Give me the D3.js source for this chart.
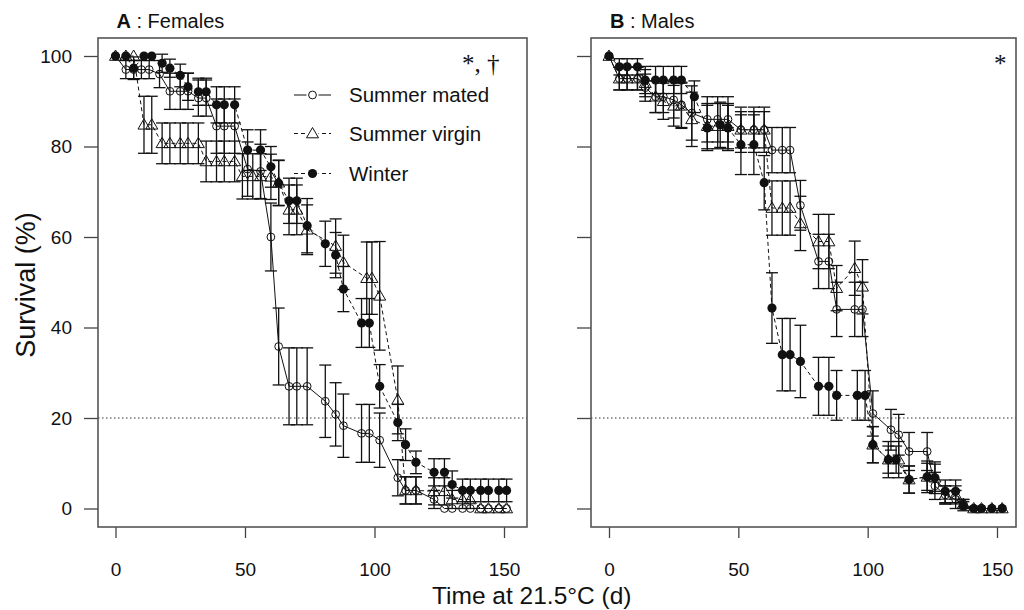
<!DOCTYPE html>
<html>
<head>
<meta charset="utf-8">
<script src="https://cdn.jsdelivr.net/npm/d3@7"></script>
<style>
  body { margin: 0; background: #fff; }
  text { font-family: Arial, "Liberation Sans", sans-serif; fill: #111; }
</style>
</head>
<body>
<svg id="chart" width="1024" height="610"></svg>
<script>
// ---- data: day, survival (%), SE ----
const xTicks = [0, 50, 100, 150];
const yTicks = [0, 20, 40, 60, 80, 100];

// A : Females
const femMatedDay  = [0,4,7,10,13,17,21,25,28,32,35,39,42,46,51,56,60,63,67,70,74,81,85,88,95,98,102,109,112,116,123,127,130,134,137,141,144,148,151];
const femMatedSurv = [100,97,97,97,97,96,92.2,92.2,92.2,90.7,90.7,84.5,84.5,84.5,75,74.5,60,35.8,27,27,27,23.7,20.8,18.3,16.6,16.6,15.1,6.8,4,4,2,0,0,0,0,0,0,0,0];
const femMatedSE   = [0,2,2,2,2,3,4,4,4,4,4,6,6,6,6,6,7.5,8.5,8.5,8.5,8.5,8,7,7,6.4,6.4,6,4,3,3,2,0,0,0,0,0,0,0,0];

const femVirginDay  = [0,4,7,11,14,18,21,25,28,32,35,39,42,46,49,53,56,60,63,67,70,74,85,88,97,99,102,109,112,116,123,127,130,134,137,141,144,148,151];
const femVirginSurv = [100,100,100,84.8,84.8,80.7,80.7,80.7,80.7,80.7,76.7,76.7,76.7,76.7,73.4,73.4,73.4,73.3,72,66,66,61.6,58,54.4,50.9,50.9,47,24,4,4,3.8,3.8,2,2,2,0,0,0,0];
const femVirginSE   = [0,0,0,6.3,6.3,4.5,4.5,4.5,4.5,4.5,4.5,4.5,4.5,4.5,5,5,5,5,5,5.5,5.5,5.5,6,6,8,8,12,7.5,3,3,3,3,2,2,2,0,0,0,0];

const femWinterDay  = [0,4,7,11,14,18,21,25,28,32,35,39,42,46,51,56,60,63,67,70,74,81,85,88,95,98,102,109,112,116,123,127,130,134,137,141,144,148,151];
const femWinterSurv = [100,100,97.3,100,100,98.4,97.3,95.7,93.2,92.1,92.1,89.2,89.2,89.2,79.2,79.2,75.5,71.9,68,68,62.5,58.5,56,48.5,41,41,27,19,14.1,10.2,8,8,5.3,4,4,4,4,4,4];
const femWinterSE   = [0,0,2.5,0,0,2,2,2.5,3,3,3,4,4,4,4.5,4.5,4.5,5,5,5,6,5,5,5,5.4,5.4,4.8,4,3.5,2.5,3,3,3,2.5,2.5,2.5,2.5,2.5,2.5];

// B : Males
const malMatedDay  = [0,4,7,11,14,18,21,25,28,32,38,42,46,51,56,60,63,67,70,74,81,85,88,95,98,102,109,112,116,123,126,130,134,137,141,144,148,152];
const malMatedSurv = [100,95,95,95,93,91,91,90.3,89.2,87.4,86,86,86,83.7,83.7,83.7,79.2,79.2,79.2,67,54.6,54.6,44,44,44,21,17.4,16.3,12.6,12.6,5,3,2,1,0,0,0,0];
const malMatedSE   = [0,2.5,2.5,2.5,3,3.5,3.5,4,5,6,5,5,5,5,5,5,5,5,5,5.5,6,6,6,6,6,5,4.5,4.5,4.2,4.2,3,2,2,1,0,0,0,0];

const malVirginDay  = [0,4,7,11,14,18,21,25,28,32,38,42,46,51,56,60,63,67,70,74,81,85,88,95,98,102,108,112,116,123,126,130,134,137,141,144,148,152];
const malVirginSurv = [100,95,95,95,94,91,90,89,89,86,84.5,84.5,84.5,83.7,83.7,83.7,66.4,66.4,66.4,63,59,59,48.7,53.1,49,14.1,10.8,10.8,6.4,7,6.8,3,3,1,0,0,0,0];
const malVirginSE   = [0,2.5,2.5,2.5,3,3.5,4,4.5,5,6,5,5,5,4,4,4,6,6,6,6,6,6,5,6,6,4,4,4,3,3.5,3.5,2,2,1,0,0,0,0];

const malWinterDay  = [0,4,7,11,14,18,21,25,28,33,38,43,46,51,56,60,63,67,70,74,81,85,88,96,99,102,108,111,116,123,126,130,134,137,141,144,148,152];
const malWinterSurv = [100,97.6,97.6,97.6,94.7,94.7,94.7,94.7,94.7,91,84.1,84.8,84.1,80.4,80.4,72,44.3,34,34,32.5,27,27,25,25,25,14.1,10.8,10.8,6.4,7,6.8,3.8,3.8,0.5,0,0,0,0];
const malWinterSE   = [0,1.8,1.8,1.8,3,3,3,3,3,3.5,5,5,5,6.6,6.6,6,7.8,8,8,8,6.4,6.4,5.5,5.5,5.5,4,3,3,3,3,3,2.5,2.5,1,0,0,0,0];

const seriesNames = ["Summer mated", "Summer virgin", "Winter"];

function rows(day, surv, se) {
  return day.map((d, i) => ({ day: d, surv: surv[i], se: se[i] }));
}

const panels = [
  { letter: "A", title: " : Females", box: [98, 527], xRange: [115.5, 504], yLabels: true,
    note: "*, \u2020", noteX: 462, legend: true,
    series: [rows(femMatedDay, femMatedSurv, femMatedSE),
             rows(femVirginDay, femVirginSurv, femVirginSE),
             rows(femWinterDay, femWinterSurv, femWinterSE)] },
  { letter: "B", title: " : Males", box: [591, 1016], xRange: [609, 997], yLabels: false,
    note: "*", noteX: 994, legend: false,
    series: [rows(malMatedDay, malMatedSurv, malMatedSE),
             rows(malVirginDay, malVirginSurv, malVirginSE),
             rows(malWinterDay, malWinterSurv, malWinterSE)] }
];

const boxTop = 38, boxBottom = 527;
const ink = "#111";
const dash = ["none", "4,3", "4,3"];
const capHalf = 6;

const svg = d3.select("#chart");

// marker drawers: open circle, open triangle, filled dot
function marker(sel, kind) {
  if (kind === 0) {
    sel.append("circle").attr("r", 3.9).attr("fill", "none").attr("stroke", ink).attr("stroke-width", 1);
  } else if (kind === 1) {
    sel.append("path").attr("d", "M0,-6L6,4.3L-6,4.3Z").attr("fill", "none").attr("stroke", ink).attr("stroke-width", 1);
  } else {
    sel.append("circle").attr("r", 4.6).attr("fill", ink);
  }
}

function drawPanel(p) {
  const x = d3.scaleLinear().domain([0, 150]).range(p.xRange);
  const y = d3.scaleLinear().domain([0, 100]).range([508.5, 56]);
  const g = svg.append("g");

  // 20 % reference line
  g.append("line")
    .attr("x1", p.box[0]).attr("x2", p.box[1])
    .attr("y1", y(20)).attr("y2", y(20))
    .attr("stroke", "#333").attr("stroke-width", 1.2)
    .attr("stroke-dasharray", "1.5,2.5");

  // axes
  const xa = g.append("g").attr("transform", `translate(0,${boxBottom})`)
    .call(d3.axisBottom(x).tickValues(xTicks).tickSize(11).tickPadding(25));
  const ya = g.append("g").attr("transform", `translate(${p.box[0]},0)`)
    .call(d3.axisLeft(y).tickValues(yTicks).tickSize(14).tickPadding(12)
      .tickFormat(p.yLabels ? d3.format("d") : () => ""));
  [xa, ya].forEach(a => {
    a.select(".domain").remove();
    a.selectAll(".tick line").attr("stroke", "#444").attr("stroke-width", 1.3);
    a.selectAll(".tick text").attr("font-size", 19).attr("fill", "#111")
      .style("font-family", "Arial, 'Liberation Sans', sans-serif");
  });

  // series
  p.series.forEach((data, k) => {
    const sg = g.append("g");
    sg.append("path").datum(data)
      .attr("d", d3.line().x(d => x(d.day)).y(d => y(d.surv)))
      .attr("fill", "none").attr("stroke", ink).attr("stroke-width", 1)
      .attr("stroke-dasharray", dash[k]);

    const eb = sg.selectAll(".eb").data(data.filter(d => d.se > 0)).enter().append("g");
    eb.append("line")
      .attr("x1", d => x(d.day)).attr("x2", d => x(d.day))
      .attr("y1", d => y(Math.max(0, d.surv - d.se))).attr("y2", d => y(d.surv + d.se))
      .attr("stroke", ink).attr("stroke-width", 1.3);
    [-1, 1].forEach(s => {
      eb.append("line")
        .attr("x1", d => x(d.day) - capHalf).attr("x2", d => x(d.day) + capHalf)
        .attr("y1", d => y(d.surv + s * d.se)).attr("y2", d => y(d.surv + s * d.se))
        .attr("stroke", ink).attr("stroke-width", 1.3);
    });

    const pts = sg.selectAll(".pt").data(data).enter().append("g")
      .attr("transform", d => `translate(${x(d.day)},${y(d.surv)})`);
    marker(pts, k);
  });

  // box
  g.append("rect")
    .attr("x", p.box[0]).attr("y", boxTop)
    .attr("width", p.box[1] - p.box[0]).attr("height", boxBottom - boxTop)
    .attr("fill", "none").attr("stroke", "#555").attr("stroke-width", 1.6);

  // panel title
  const t = g.append("text").attr("x", p.xRange[0] + 1).attr("y", 28).attr("font-size", 20);
  t.append("tspan").attr("font-weight", "bold").text(p.letter);
  t.append("tspan").text(p.title);

  // significance note
  g.append("text").attr("x", p.noteX).attr("y", 72)
    .attr("font-size", 25).style("font-family", "'Liberation Serif', 'DejaVu Serif', serif")
    .text(p.note);

  if (p.legend) {
    const ly = [95, 133.5, 173.5];
    seriesNames.forEach((name, k) => {
      const lg = g.append("g");
      lg.append("line").attr("x1", 294).attr("x2", 331).attr("y1", ly[k]).attr("y2", ly[k])
        .attr("stroke", ink).attr("stroke-width", 1).attr("stroke-dasharray", dash[k]);
      const m = lg.append("g").attr("transform", `translate(312.5,${ly[k]})`);
      m.append("rect").attr("x", -6).attr("y", -6).attr("width", 12).attr("height", 12).attr("fill", "#fff");
      marker(m, k);
      lg.append("text").attr("x", 349).attr("y", ly[k] + 7).attr("font-size", 20.5).text(name);
    });
  }
}

panels.forEach(drawPanel);

// shared axis titles
svg.append("text")
  .attr("transform", "translate(35,285) rotate(-90)")
  .attr("text-anchor", "middle").attr("font-size", 27)
  .text("Survival (%)");
svg.append("text")
  .attr("x", 432).attr("y", 604).attr("font-size", 24.5)
  .text("Time at 21.5\u00B0C (d)");
</script>
</body>
</html>
